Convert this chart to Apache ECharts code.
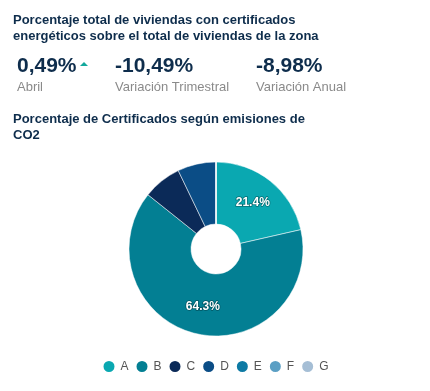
<!DOCTYPE html>
<html><head><meta charset="utf-8">
<script src="https://cdn.jsdelivr.net/npm/echarts@6/dist/echarts.min.js"></script>
<style>html,body{margin:0;padding:0;background:#fff}#c{width:430px;height:391px}</style>
</head><body><div id="c"></div>
<script>
const categories = ['A','B','C','D','E','F','G'];
const values = [3, 9, 1, 1, 0, 0, 0];
const colors = ['#0aa8b1','#037f93','#0b2a58','#0b4d86','#0d7aa4','#5b9fc4','#a5bed5'];
const kpiValues = ['0,49%', '-10,49%', '-8,98%'];
const kpiLabels = ['Abril', 'Variación Trimestral', 'Variación Anual'];

const chart = echarts.init(document.getElementById('c'), null, {renderer:'canvas'});
const font = 'Liberation Sans, Arial, sans-serif';
const dark = '#0e2d4c';
const kx = [17, 115, 256];
const titles = [
  {text:'Porcentaje total de viviendas con certificados\nenergéticos sobre el total de viviendas de la zona', left:13, top:12, padding:0,
   textStyle:{fontFamily:font, fontSize:13, fontWeight:'bold', color:dark, lineHeight:16}},
  {text:'Porcentaje de Certificados según emisiones de\nCO2', left:13, top:111, padding:0,
   textStyle:{fontFamily:font, fontSize:13, fontWeight:'bold', color:dark, lineHeight:16}}
];
kpiValues.forEach((v,i)=>{
  titles.push({text:v, left:kx[i], top:56, padding:0,
    textStyle:{fontFamily:font, fontSize:21, fontWeight:'bold', color:dark}});
  titles.push({text:kpiLabels[i], left:kx[i], top:81, padding:0,
    textStyle:{fontFamily:font, fontSize:13, fontWeight:'normal', color:'#8a8a8a'}});
});
chart.setOption({
  animation:false,
  color: colors,
  title: titles,
  graphic:[{type:'polygon', shape:{points:[[80,66],[88,66],[84,62]]}, style:{fill:'#12a89c'}}],
  legend:{bottom:12, left:'center', icon:'circle', itemWidth:13, itemHeight:13, itemGap:6,
    data: categories,
    textStyle:{fontFamily:font, fontSize:12, color:'#555'}},
  series:[{
    type:'pie', center:[216,249], radius:[25,87], startAngle:90, clockwise:true,
    avoidLabelOverlap:false,
    itemStyle:{borderColor:'#fff', borderWidth:0.5},
    label:{show:true, position:'inside', fontFamily:font, fontSize:12, fontWeight:'bold', color:'#fff',
      textBorderColor:'rgba(0,0,0,0.35)', textBorderWidth:1.5,
      formatter: p => p.percent >= 15 ? p.percent.toFixed(1) + '%' : ''},
    labelLine:{show:false},
    emphasis:{disabled:true},
    data: categories.map((c,i)=>({name:c, value:values[i]}))
  }]
});
</script></body></html>
